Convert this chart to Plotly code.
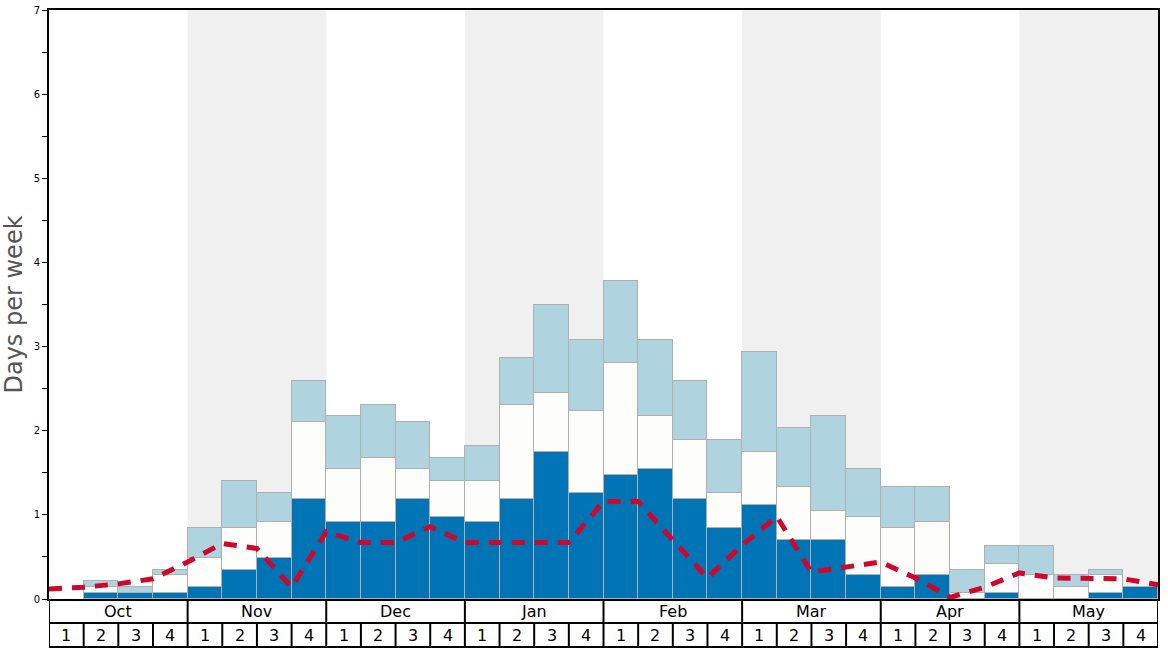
import plotly.graph_objects as go

months = ["Oct", "Nov", "Dec", "Jan", "Feb", "Mar", "Apr", "May"]
week_labels = ["1", "2", "3", "4"]

# cumulative tops of each stacked segment (days per week), one per week
dark_top = [0, 0.07, 0.07, 0.07, 0.14, 0.35, 0.49, 1.19,
            0.91, 0.91, 1.19, 0.98, 0.91, 1.19, 1.75, 1.26,
            1.47, 1.54, 1.19, 0.84, 1.12, 0.70, 0.70, 0.28,
            0.14, 0.28, 0, 0.07, 0, 0, 0.07, 0.14]
white_top = [0, 0.14, 0.07, 0.28, 0.49, 0.84, 0.91, 2.10,
             1.54, 1.68, 1.54, 1.40, 1.40, 2.31, 2.45, 2.24,
             2.80, 2.17, 1.89, 1.26, 1.75, 1.33, 1.05, 0.98,
             0.84, 0.91, 0.07, 0.42, 0.28, 0.14, 0.28, 0.14]
light_top = [0, 0.21, 0.14, 0.35, 0.84, 1.40, 1.26, 2.59,
             2.17, 2.31, 2.10, 1.68, 1.82, 2.87, 3.50, 3.08,
             3.78, 3.08, 2.59, 1.89, 2.94, 2.03, 2.17, 1.54,
             1.33, 1.33, 0.35, 0.63, 0.63, 0.28, 0.35, 0.14]
# dashed line values at week boundaries
line_vals = [0.12, 0.14, 0.18, 0.24, 0.44, 0.66, 0.60, 0.14,
             0.80, 0.67, 0.67, 0.86, 0.67, 0.67, 0.67, 0.67,
             1.16, 1.16, 0.70, 0.25, 0.64, 0.98, 0.32, 0.38,
             0.44, 0.25, 0.02, 0.14, 0.31, 0.25, 0.25, 0.24, 0.17]

n = len(dark_top)
xc = [i + 0.5 for i in range(n)]

def nz(v):
    return [None if abs(a) < 1e-9 else a for a in v]

seg_dark = nz(dark_top)
seg_white = nz([w - d for w, d in zip(white_top, dark_top)])
seg_light = nz([l - w for l, w in zip(light_top, white_top)])

fig = go.Figure()
edge = dict(color="#b0b0b0", width=1.5)
fig.add_trace(go.Bar(x=xc, y=seg_dark, width=1, marker=dict(color="#0174b5", line=edge), showlegend=False))
fig.add_trace(go.Bar(x=xc, y=seg_white, width=1, marker=dict(color="#fdfdfb", line=edge), showlegend=False))
fig.add_trace(go.Bar(x=xc, y=seg_light, width=1, marker=dict(color="#afd3df", line=edge), showlegend=False))
fig.add_trace(go.Scatter(x=list(range(len(line_vals))), y=line_vals, mode="lines",
                         line=dict(color="#d0072a", width=5, dash="13px,10px"), showlegend=False))

shapes = []
# shaded month backgrounds
for m in range(len(months)):
    if m % 2 == 1:
        shapes.append(dict(type="rect", xref="x", yref="y", x0=4 * m, x1=4 * m + 4, y0=0, y1=7,
                           fillcolor="#f0f0f0", line=dict(width=0), layer="below"))

plot_h = 589.0
r1 = -24.0 / plot_h
r2 = -48.0 / plot_h
lc = dict(color="black", width=2)
# horizontal table lines
for yy in [r1, r2]:
    shapes.append(dict(type="line", xref="x", yref="paper", x0=0, x1=n, y0=yy, y1=yy, line=lc))
# outer verticals
for xx in [0, n]:
    shapes.append(dict(type="line", xref="x", yref="paper", x0=xx, x1=xx, y0=0, y1=r2, line=lc))
# month separators
for m in range(1, len(months)):
    shapes.append(dict(type="line", xref="x", yref="paper", x0=4 * m, x1=4 * m, y0=0, y1=r1, line=lc))
# week separators
for i in range(1, n):
    shapes.append(dict(type="line", xref="x", yref="paper", x0=i, x1=i, y0=r1, y1=r2, line=lc))

annotations = []
for m, name in enumerate(months):
    annotations.append(dict(x=4 * m + 2, y=r1 / 2, xref="x", yref="paper", text=name, showarrow=False,
                            font=dict(size=16, color="black"), yanchor="middle"))
    for k, wl in enumerate(week_labels):
        annotations.append(dict(x=4 * m + k + 0.5, y=(r1 + r2) / 2, xref="x", yref="paper", text=wl,
                                showarrow=False, font=dict(size=16, color="black"), yanchor="middle"))

fig.update_layout(
    width=1168, height=648,
    margin=dict(l=49, r=10, t=10, b=49, autoexpand=False),
    barmode="stack", bargap=0,
    plot_bgcolor="white", paper_bgcolor="white",
    font=dict(family="DejaVu Sans", color="black"),
    shapes=shapes, annotations=annotations,
    xaxis=dict(range=[0, n], showticklabels=False, ticks="", showgrid=False, zeroline=False,
               showline=True, linecolor="black", linewidth=2, mirror=True, fixedrange=True,
               automargin=False),
    yaxis=dict(range=[0, 7], tickvals=list(range(8)), ticks="outside", ticklen=5, tickwidth=1,
               tickcolor="black", tickfont=dict(size=10, color="black"), showgrid=False,
               zeroline=False, showline=True, linecolor="black", linewidth=2, mirror=True,
               automargin=False,
               minor=dict(dtick=0.5, ticks="outside", ticklen=5, tickcolor="black", tickwidth=1),
               title=dict(text="Days per week", font=dict(size=24, color="#555555"), standoff=8)),
)

fig.write_html("out.html", config={"displayModeBar": False},
               post_script="document.body.style.margin='0';document.body.style.overflow='hidden';")
